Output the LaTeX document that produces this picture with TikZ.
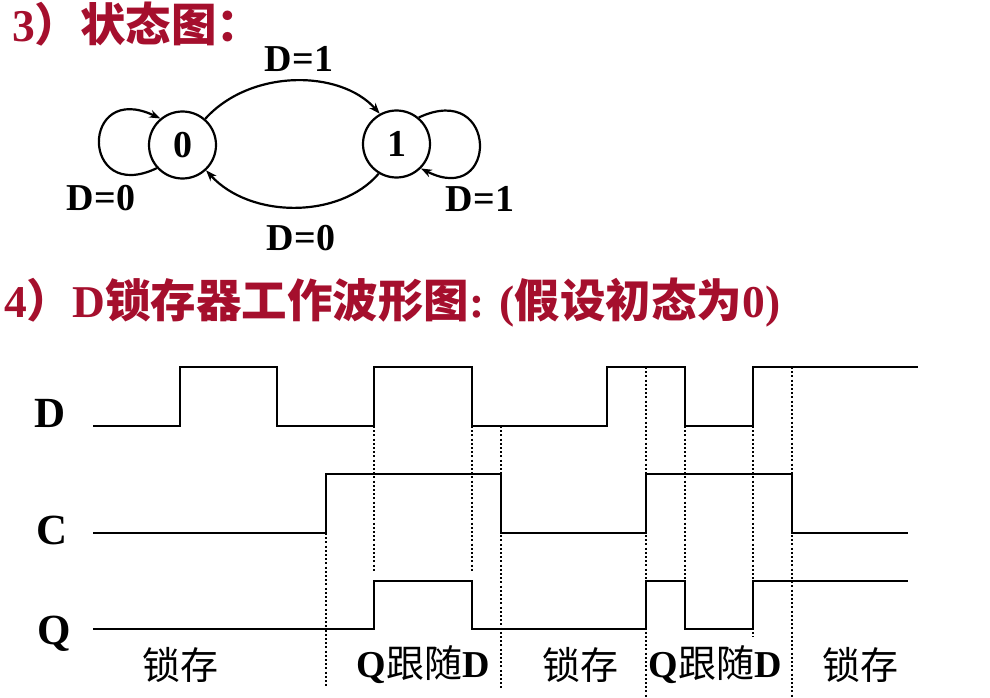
\documentclass[tikz,border=0pt]{standalone}
\usepackage{fontspec}
\setmainfont{Liberation Serif}
\newfontfamily\cjk{Noto Sans CJK SC}
\usetikzlibrary{arrows.meta}
\definecolor{titlered}{RGB}{165,15,45}
\begin{document}
\begin{tikzpicture}[x=1pt,y=-1pt,
  state/.style={circle,draw,line width=2.2pt,minimum size=67pt,inner sep=0pt,font=\fontsize{38}{38}\selectfont\bfseries},
  lab/.style={font=\fontsize{38}{38}\selectfont\bfseries,inner sep=0pt},
  arr/.style={line width=2.2pt,-{Stealth[length=11pt,width=8pt]}},
  wave/.style={line width=2.6pt,line join=miter},
  guide/.style={line width=2.2pt,dash pattern=on 2pt off 2.2pt},
  sig/.style={font=\fontsize{43}{43}\selectfont\bfseries,inner sep=0pt},
  phase/.style={font=\fontsize{38}{38}\selectfont,inner sep=0pt},
  ttl/.style={font=\fontsize{45.5}{45.5}\selectfont\bfseries,text=titlered,inner sep=0pt,anchor=base west}]
\useasboundingbox (0,0) rectangle (990,698);
\fill[white] (0,0) rectangle (990,698);

% titles
\node[ttl] (t3) at (12,42) {3{\cjk ）状态图：}};
\node[ttl] (t4) at (4,317) {4{\cjk ）}D{\cjk 锁存器工作波形图}: ({\cjk 假设初态为}0)};

% state diagram
\node[state] (n0) at (182.5,145) {0};
\node[state] (n1) at (396.5,144) {1};
\draw[arr] (n0.222) .. controls (80,205) and (80,80) .. (n0.130);
\draw[arr] (n1.50) .. controls (499,80) and (499,208) .. (n1.-45);
\draw[arr] (n0.49) .. controls (250,69) and (340,69) .. (n1.119);
\draw[arr] (n1.-121) .. controls (340,219) and (250,219) .. (n0.-47);
\node[lab] (l1) at (299,58.5) {D=1};
\node[lab] (l2) at (101,198.5) {D=0};
\node[lab] (l3) at (480,199) {D=1};
\node[lab] (l4) at (301,238.5) {D=0};

% waveform labels
\node[sig] (sD) at (50,413) {D};
\node[sig] (sC) at (52,530) {C};
\node[sig] (sQ) at (54,634) {Q};

% guides
\draw[guide] (326,533) -- (326,686);
\draw[guide] (374,426) -- (374,572);
\draw[guide] (472,426) -- (472,572);
\draw[guide] (501,426) -- (501,690);
\draw[guide] (646,367) -- (646,697);
\draw[guide] (685,426) -- (685,581);
\draw[guide] (753,426) -- (753,637);
\draw[guide] (792,367) -- (792,697);

% waveforms
\draw[wave] (93,426) -- (180,426) -- (180,367) -- (277,367) -- (277,426) -- (374,426) -- (374,367) -- (472,367) -- (472,426) -- (607,426) -- (607,367) -- (685,367) -- (685,426) -- (753,426) -- (753,367) -- (918,367);
\draw[wave] (93,533) -- (326,533) -- (326,474) -- (501,474) -- (501,533) -- (646,533) -- (646,474) -- (792,474) -- (792,533) -- (908,533);
\draw[wave] (93,629) -- (374,629) -- (374,581) -- (472,581) -- (472,629) -- (646,629) -- (646,581) -- (685,581) -- (685,629) -- (753,629) -- (753,581) -- (908,581);

% phase labels
\node[phase] (p1) at (180,665) {\cjk 锁存};
\node[phase] (p2) at (423,665) {\textbf{Q}{\cjk 跟随}\textbf{D}};
\node[phase] (p3) at (580,665) {\cjk 锁存};
\node[phase] (p4) at (715,665) {\textbf{Q}{\cjk 跟随}\textbf{D}};
\node[phase] (p5) at (860,665) {\cjk 锁存};
\end{tikzpicture}
\end{document}
